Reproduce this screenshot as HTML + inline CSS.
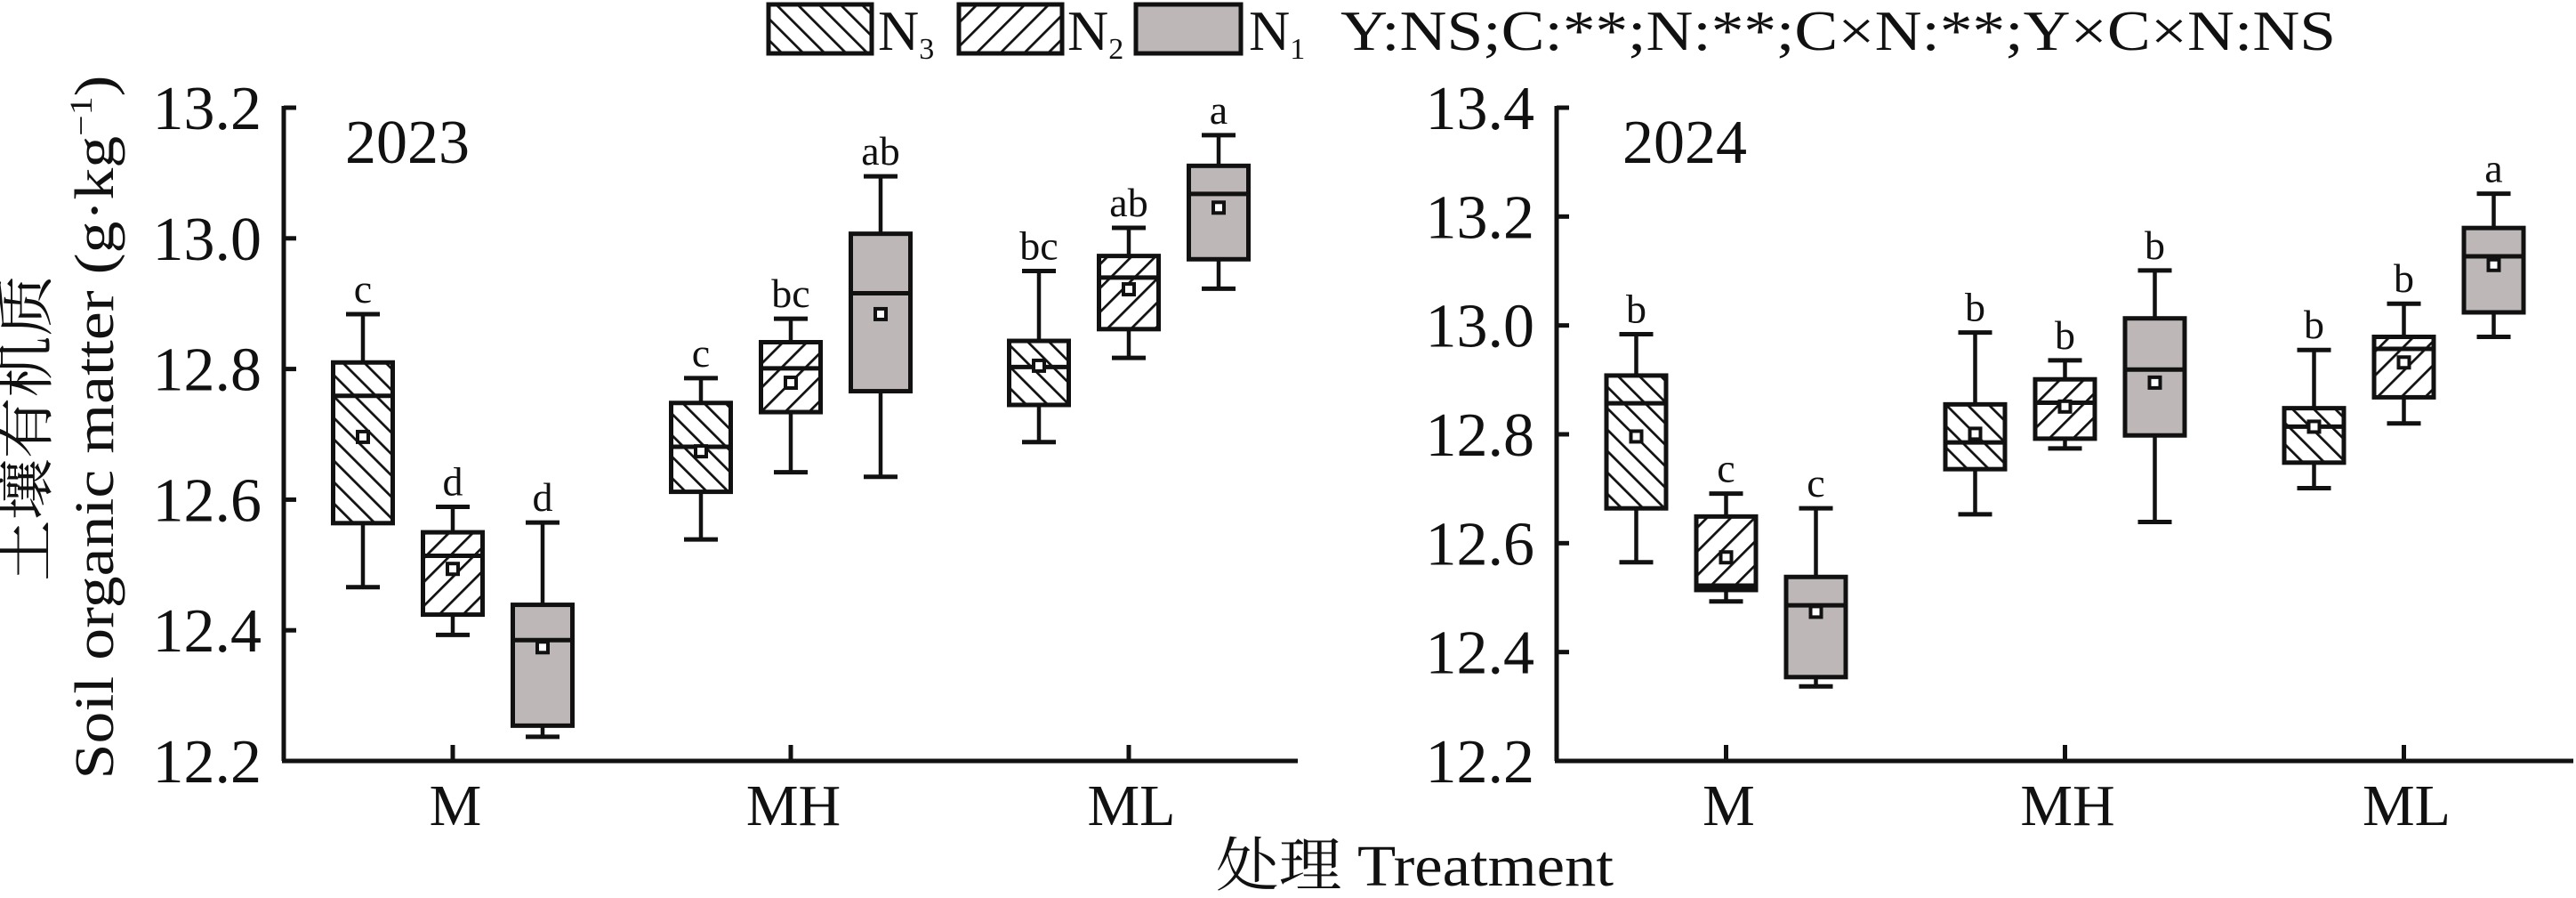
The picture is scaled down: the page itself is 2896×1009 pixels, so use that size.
<!DOCTYPE html>
<html><head><meta charset="utf-8"><style>
html,body{margin:0;padding:0;background:#fff;}
svg{display:block;}
text{font-family:"Liberation Serif","Noto Serif CJK SC",serif;fill:#111;}
</style></head><body>
<svg id="chart" width="2896" height="1009" viewBox="0 0 2896 1009" xmlns="http://www.w3.org/2000/svg">
<defs>
<pattern id="hatchN3" patternUnits="userSpaceOnUse" width="17" height="17" patternTransform="rotate(-45)">
<rect width="17" height="17" fill="#fff"/><line x1="0" y1="0" x2="0" y2="17" stroke="#111" stroke-width="5.5"/></pattern>
<pattern id="hatchN2" patternUnits="userSpaceOnUse" width="19" height="19" patternTransform="rotate(45)">
<rect width="19" height="19" fill="#fff"/><line x1="0" y1="0" x2="0" y2="19" stroke="#111" stroke-width="5.5"/></pattern>
</defs>
<g id="legend">
<rect x="864" y="5" width="116" height="55" fill="url(#hatchN3)" stroke="#111" stroke-width="5"/>
<text x="987" y="56" font-size="64">N<tspan font-size="34" dy="10">3</tspan></text>
<rect x="1078" y="5" width="116" height="55" fill="url(#hatchN2)" stroke="#111" stroke-width="5"/>
<text x="1200" y="56" font-size="64">N<tspan font-size="34" dy="10">2</tspan></text>
<rect x="1277" y="5" width="118" height="55" fill="#bdb8b7" stroke="#111" stroke-width="5"/>
<text x="1404" y="56" font-size="64">N<tspan font-size="34" dy="10">1</tspan></text>
<text x="1507" y="56" font-size="64" textLength="1119" lengthAdjust="spacingAndGlyphs">Y:NS;C:**;N:**;C×N:**;Y×C×N:NS</text>
</g>
<text x="0" y="0" font-size="66" transform="translate(52,481) rotate(-90)" text-anchor="middle" textLength="344" lengthAdjust="spacingAndGlyphs">土壤有机质</text>
<text x="0" y="0" font-size="62" transform="translate(127,480) rotate(-90)" text-anchor="middle" textLength="791" lengthAdjust="spacingAndGlyphs">Soil organic matter (g·kg<tspan font-size="36" dy="-24">−1</tspan><tspan dy="24">)</tspan></text>
<text x="1367" y="995" font-size="66" textLength="447" lengthAdjust="spacingAndGlyphs">处理 Treatment</text>
<g id="panels"></g>
</svg>
<script>
const categories = ["M","MH","ML"];
const nLevels = ["N3","N2","N1"];
// 2023: per category, order N3,N2,N1
const y23WhiskerHigh = [12.884,12.589,12.565, 12.786,12.877,13.095, 12.950,13.016,13.158];
const y23Q3          = [12.810,12.550,12.439, 12.748,12.841,13.007, 12.843,12.973,13.111];
const y23Median      = [12.759,12.514,12.385, 12.681,12.801,12.916, 12.803,12.940,13.068];
const y23Q1          = [12.564,12.424,12.254, 12.612,12.734,12.766, 12.745,12.861,12.968];
const y23WhiskerLow  = [12.466,12.393,12.237, 12.539,12.642,12.635, 12.688,12.817,12.923];
const y23Mean        = [12.696,12.494,12.374, 12.674,12.779,12.884, 12.805,12.922,13.047];
const y23Letters     = ["c","d","d","c","bc","ab","bc","ab","a"];
const y23Ticks = [12.2,12.4,12.6,12.8,13.0,13.2];
// 2024
const y24WhiskerHigh = [12.984,12.691,12.664, 12.987,12.936,13.101, 12.955,13.040,13.242];
const y24Q3          = [12.908,12.649,12.538, 12.855,12.901,13.013, 12.848,12.979,13.179];
const y24Median      = [12.857,12.522,12.486, 12.785,12.858,12.919, 12.814,12.957,13.127];
const y24Q1          = [12.664,12.514,12.354, 12.736,12.792,12.798, 12.748,12.868,13.024];
const y24WhiskerLow  = [12.565,12.493,12.337, 12.653,12.774,12.639, 12.701,12.820,12.979];
const y24Mean        = [12.796,12.574,12.474, 12.801,12.851,12.895, 12.814,12.932,13.111];
const y24Letters     = ["b","c","c","b","b","b","b","b","a"];
const y24Ticks = [12.2,12.4,12.6,12.8,13.0,13.2,13.4];

const NS="http://www.w3.org/2000/svg";
const root=document.getElementById('panels');
function mk(tag,attrs,parent){const e=document.createElementNS(NS,tag);for(const k in attrs)e.setAttribute(k,attrs[k]);(parent||root).appendChild(e);return e;}
const fills={N3:"url(#hatchN3)",N2:"url(#hatchN2)",N1:"#bdb8b7"};

function drawPanel(cfg){
  const g=mk('g',{});
  
  
  const yMin=cfg.ticks[0], yMax=cfg.ticks[cfg.ticks.length-1];
  const yS=v=>cfg.yBot-(v-yMin)/(yMax-yMin)*(cfg.yBot-cfg.yTop);
  const band=cfg.w/categories.length;
  const xS=i=>cfg.x0+band*(i+0.5);
  const offs=[-101,0,101];
  const ya=mk('line',{x1:cfg.x0,y1:cfg.yTop-2,x2:cfg.x0,y2:cfg.yBot,stroke:'#111','stroke-width':5},g);
  
  
  const xa=mk('line',{x1:cfg.x0-2,y1:cfg.yBot,x2:cfg.x0+cfg.w,y2:cfg.yBot,stroke:'#111','stroke-width':5},g);
  
  
  cfg.ticks.forEach(t=>{
    const y=yS(t);
    const tk=mk('line',{x1:cfg.x0,y1:y,x2:cfg.x0+14,y2:y,stroke:'#111','stroke-width':5},g);
    
    
    const tl=mk('text',{x:cfg.x0-25,y:y+24,'font-size':70,'text-anchor':'end'},g);
    tl.textContent=t.toFixed(1);
    
    
  });
  categories.forEach((c,i)=>{
    const x=xS(i);
    const tk=mk('line',{x1:x,y1:cfg.yBot,x2:x,y2:cfg.yBot-18,stroke:'#111','stroke-width':5},g);
    
    
    const tl=mk('text',{x:x+3,y:927,'font-size':66,'text-anchor':'middle'},g);
    tl.textContent=c;
    
    
    nLevels.forEach((n,j)=>{
      const k=i*3+j, cx=x+offs[j];
      const bg=mk('g',{},g);
      
      
      const hw=33.5, cw=19;
      mk('line',{x1:cx,y1:yS(cfg.wh[k]),x2:cx,y2:yS(cfg.q3[k]),stroke:'#111','stroke-width':4.5},bg);
      mk('line',{x1:cx,y1:yS(cfg.wl[k]),x2:cx,y2:yS(cfg.q1[k]),stroke:'#111','stroke-width':4.5},bg);
      mk('line',{x1:cx-cw,y1:yS(cfg.wh[k]),x2:cx+cw,y2:yS(cfg.wh[k]),stroke:'#111','stroke-width':5},bg);
      mk('line',{x1:cx-cw,y1:yS(cfg.wl[k]),x2:cx+cw,y2:yS(cfg.wl[k]),stroke:'#111','stroke-width':5},bg);
      mk('rect',{x:cx-hw,y:yS(cfg.q3[k]),width:hw*2,height:yS(cfg.q1[k])-yS(cfg.q3[k]),fill:fills[n],stroke:'#111','stroke-width':5},bg);
      mk('line',{x1:cx-hw,y1:yS(cfg.med[k]),x2:cx+hw,y2:yS(cfg.med[k]),stroke:'#111','stroke-width':5},bg);
      const m=mk('rect',{x:cx-6,y:yS(cfg.mean[k])-6,width:12,height:12,fill:'#fff',stroke:'#111','stroke-width':4},bg);
      
      
      const lt=mk('text',{x:cx,y:yS(cfg.wh[k])-13,'font-size':46,'text-anchor':'middle'},bg);
      lt.textContent=cfg.letters[k];
      
      
    });
  });
  const yr=mk('text',{x:cfg.yearX,y:183,'font-size':70},g);
  yr.textContent=cfg.year;
  
  
}
drawPanel({name:'panel-2023',year:'2023',yearX:388,x0:319,w:1140,yTop:121,yBot:855,ticks:y23Ticks,
  wh:y23WhiskerHigh,q3:y23Q3,med:y23Median,q1:y23Q1,wl:y23WhiskerLow,mean:y23Mean,letters:y23Letters});
drawPanel({name:'panel-2024',year:'2024',yearX:1824,x0:1750,w:1143,yTop:121,yBot:855,ticks:y24Ticks,
  wh:y24WhiskerHigh,q3:y24Q3,med:y24Median,q1:y24Q1,wl:y24WhiskerLow,mean:y24Mean,letters:y24Letters});
</script>
</body></html>
